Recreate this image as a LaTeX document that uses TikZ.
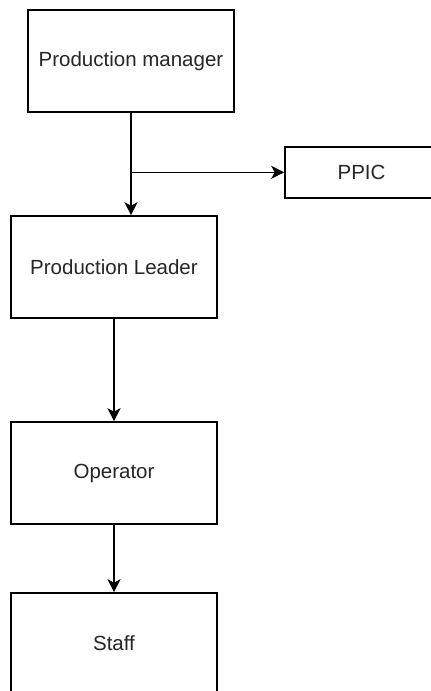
\documentclass[tikz,border=0pt]{standalone}
\usepackage{fontspec}
\setmainfont{Liberation Sans}
\usetikzlibrary{arrows.meta}
\begin{document}
\begin{tikzpicture}[x=1pt,y=-1pt,
  box/.style={draw=black, line width=1.6pt, fill=white, inner sep=0pt, text=black!85,
    font=\fontsize{20.5}{24}\selectfont},
  conn/.style={draw=black, line width=1.6pt, -{Stealth[length=13pt,width=13pt,inset=3.5pt]}}]
\useasboundingbox (0,0) rectangle (431,691);
\clip (0,0) rectangle (431,691);
\fill[white] (0,0) rectangle (431,691);
\node[box, minimum width=206pt, minimum height=102pt] (pm) at (131,61) {Production manager};
\node[box, minimum width=153pt, minimum height=51pt] (ppic) at (361.5,172.3) {PPIC};
\node[box, minimum width=206pt, minimum height=102pt] (pl) at (114,267) {Production Leader};
\node[box, minimum width=206pt, minimum height=102pt] (op) at (114,473) {Operator};
\node[box, minimum width=206pt, minimum height=100pt] (st) at (114,643) {Staff};
\coordinate (j) at (pm.south |- ppic.west);
\draw[conn] (pm.south) -- (pm.south |- pl.north);
\draw[conn] (j) -- (ppic.west);
\draw[conn] (pl.south) -- (op.north);
\draw[conn] (op.south) -- (st.north);
\end{tikzpicture}
\end{document}
